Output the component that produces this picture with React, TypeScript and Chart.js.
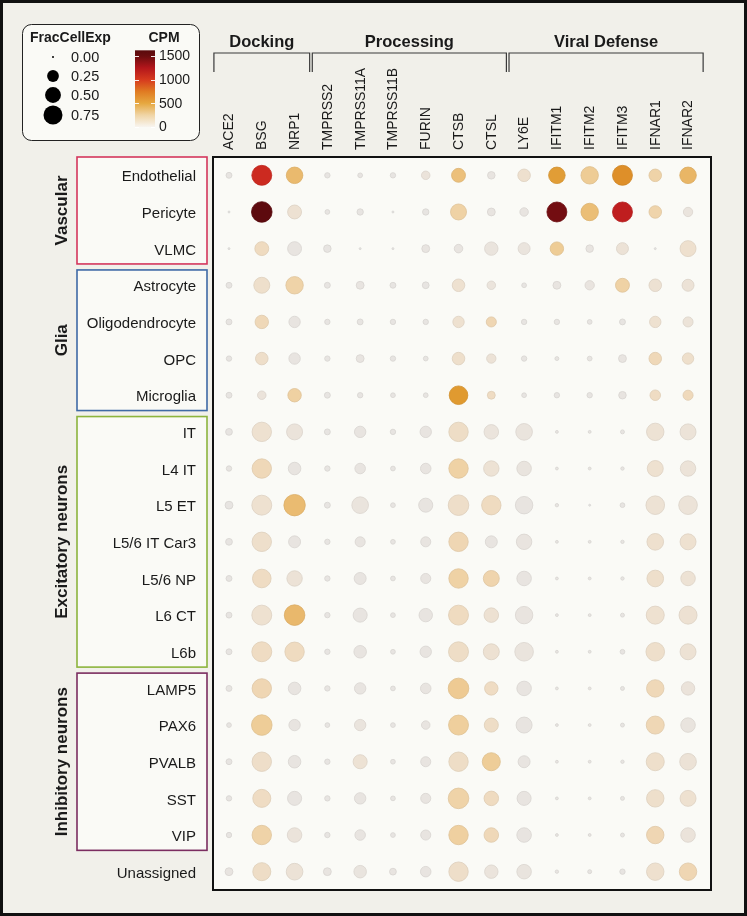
import React, { useEffect, useRef } from "react";
import { Chart, registerables } from "chart.js";
Chart.register(...registerables);

const FONT = '"Liberation Sans", Arial, sans-serif';
const BG = "#f1f0ea";
const PANEL = "#fafaf6";
const INK = "#1a1a1a";

const genes = ["ACE2", "BSG", "NRP1", "TMPRSS2", "TMPRSS11A", "TMPRSS11B", "FURIN", "CTSB", "CTSL", "LY6E", "IFITM1", "IFITM2", "IFITM3", "IFNAR1", "IFNAR2"];
const geneGroupLabels = ["Docking", "Processing", "Viral Defense"];
const geneGroupFrom = [0, 3, 9];
const geneGroupTo = [2, 8, 14];

const cellTypes = ["Endothelial", "Pericyte", "VLMC", "Astrocyte", "Oligodendrocyte", "OPC", "Microglia", "IT", "L4 IT", "L5 ET", "L5/6 IT Car3", "L5/6 NP", "L6 CT", "L6b", "LAMP5", "PAX6", "PVALB", "SST", "VIP", "Unassigned"];
const cellGroupLabels = ["Vascular", "Glia", "Excitatory neurons", "Inhibitory neurons"];
const cellGroupFrom = [0, 3, 7, 14];
const cellGroupTo = [2, 6, 13, 18];
const cellGroupColors = ["#d4365c", "#3f6aa6", "#8cb43e", "#7b2d60"];

// FracCellExp per cell type (rows) x gene (columns)
const fracCellExp = [
  [0.04, 0.84, 0.55, 0.03, 0.02, 0.03, 0.11, 0.37, 0.08, 0.29, 0.55, 0.62, 0.84, 0.29, 0.55],
  [0.00, 0.90, 0.37, 0.02, 0.05, 0.00, 0.05, 0.51, 0.09, 0.11, 0.84, 0.62, 0.84, 0.29, 0.14],
  [0.00, 0.37, 0.37, 0.08, 0.00, 0.00, 0.09, 0.11, 0.34, 0.26, 0.34, 0.08, 0.26, 0.00, 0.51],
  [0.04, 0.51, 0.62, 0.04, 0.09, 0.04, 0.06, 0.29, 0.11, 0.02, 0.09, 0.14, 0.37, 0.29, 0.26],
  [0.04, 0.34, 0.23, 0.03, 0.04, 0.03, 0.03, 0.23, 0.17, 0.03, 0.03, 0.02, 0.04, 0.23, 0.17],
  [0.03, 0.29, 0.23, 0.03, 0.09, 0.03, 0.02, 0.29, 0.14, 0.03, 0.01, 0.02, 0.09, 0.29, 0.23],
  [0.04, 0.11, 0.34, 0.04, 0.03, 0.02, 0.02, 0.72, 0.09, 0.02, 0.03, 0.03, 0.08, 0.19, 0.17],
  [0.06, 0.79, 0.51, 0.04, 0.23, 0.03, 0.23, 0.79, 0.41, 0.56, 0.002, 0.002, 0.01, 0.62, 0.51],
  [0.03, 0.79, 0.29, 0.03, 0.19, 0.02, 0.19, 0.79, 0.47, 0.41, 0.002, 0.002, 0.005, 0.51, 0.47],
  [0.09, 0.84, 0.98, 0.04, 0.56, 0.02, 0.38, 0.90, 0.79, 0.62, 0.005, 0.00, 0.02, 0.72, 0.72],
  [0.06, 0.79, 0.26, 0.03, 0.17, 0.02, 0.17, 0.79, 0.26, 0.47, 0.002, 0.002, 0.005, 0.56, 0.51],
  [0.04, 0.72, 0.47, 0.03, 0.26, 0.02, 0.17, 0.79, 0.51, 0.41, 0.002, 0.002, 0.005, 0.56, 0.41],
  [0.04, 0.84, 0.90, 0.03, 0.38, 0.02, 0.34, 0.84, 0.41, 0.62, 0.002, 0.002, 0.01, 0.67, 0.67],
  [0.04, 0.84, 0.79, 0.03, 0.29, 0.02, 0.23, 0.84, 0.51, 0.72, 0.002, 0.002, 0.02, 0.72, 0.51],
  [0.04, 0.79, 0.29, 0.03, 0.23, 0.02, 0.19, 0.90, 0.34, 0.41, 0.002, 0.002, 0.01, 0.62, 0.34],
  [0.02, 0.90, 0.23, 0.02, 0.23, 0.02, 0.11, 0.84, 0.38, 0.51, 0.002, 0.002, 0.01, 0.67, 0.41],
  [0.04, 0.79, 0.29, 0.03, 0.38, 0.02, 0.17, 0.79, 0.67, 0.26, 0.002, 0.002, 0.005, 0.67, 0.56],
  [0.03, 0.67, 0.38, 0.03, 0.23, 0.02, 0.17, 0.90, 0.41, 0.38, 0.002, 0.002, 0.01, 0.62, 0.51],
  [0.03, 0.79, 0.41, 0.03, 0.19, 0.02, 0.17, 0.79, 0.41, 0.41, 0.002, 0.002, 0.01, 0.62, 0.41],
  [0.09, 0.67, 0.56, 0.09, 0.29, 0.06, 0.19, 0.79, 0.34, 0.41, 0.005, 0.01, 0.03, 0.62, 0.62],
];

// CPM per cell type (rows) x gene (columns)
const cpm = [
  [10, 1050, 480, 10, 5, 10, 60, 430, 20, 120, 680, 330, 760, 260, 510],
  [0, 1500, 100, 5, 10, 0, 10, 270, 20, 20, 1430, 450, 1150, 250, 40],
  [0, 170, 20, 10, 0, 0, 15, 15, 40, 40, 330, 15, 80, 0, 120],
  [10, 130, 260, 10, 15, 10, 10, 110, 50, 10, 15, 25, 270, 100, 80],
  [10, 200, 20, 10, 10, 10, 10, 110, 220, 10, 10, 10, 10, 110, 70],
  [10, 140, 20, 10, 15, 10, 10, 130, 80, 10, 10, 10, 15, 200, 130],
  [10, 60, 280, 10, 10, 10, 10, 700, 160, 10, 10, 10, 15, 160, 190],
  [10, 110, 60, 10, 20, 10, 20, 150, 50, 40, 5, 5, 10, 90, 70],
  [10, 200, 20, 10, 20, 10, 20, 270, 90, 30, 5, 5, 10, 110, 70],
  [10, 110, 470, 10, 40, 10, 20, 140, 170, 20, 5, 0, 10, 90, 70],
  [10, 130, 20, 10, 20, 10, 20, 220, 20, 25, 5, 5, 10, 120, 110],
  [10, 160, 80, 10, 20, 10, 20, 270, 240, 20, 5, 5, 10, 130, 90],
  [10, 110, 490, 10, 20, 10, 20, 170, 100, 25, 5, 5, 10, 110, 100],
  [10, 160, 170, 10, 20, 10, 20, 150, 100, 40, 5, 5, 10, 130, 90],
  [10, 220, 20, 10, 20, 10, 20, 340, 160, 20, 5, 5, 10, 200, 60],
  [10, 320, 20, 10, 40, 10, 15, 300, 150, 20, 5, 5, 10, 210, 30],
  [10, 140, 20, 10, 90, 10, 20, 150, 320, 20, 5, 5, 10, 130, 80],
  [10, 160, 20, 10, 20, 10, 20, 260, 170, 20, 5, 5, 10, 130, 110],
  [10, 260, 60, 10, 20, 10, 20, 290, 200, 20, 5, 5, 10, 220, 60],
  [15, 150, 80, 15, 30, 15, 20, 140, 50, 30, 5, 5, 10, 120, 220],
];

const sizeLegendValues = [0, 0.25, 0.5, 0.75];
const sizeLegendLabels = ["0.00", "0.25", "0.50", "0.75"];
const cpmTicks = [0, 500, 1000, 1500];
const cpmTickLabels = ["0", "500", "1000", "1500"];

// colour stops (cpm -> rgb) for dots
const dotStops: [number, number[]][] = [
  [0, [230, 228, 226]], [50, [235, 228, 220]], [120, [238, 224, 206]], [200, [239, 216, 184]],
  [300, [239, 207, 157]], [450, [235, 190, 118]], [550, [231, 176, 92]], [700, [224, 154, 48]],
  [800, [220, 135, 36]], [900, [215, 95, 30]], [1050, [204, 42, 32]], [1200, [185, 24, 30]],
  [1350, [140, 16, 20]], [1500, [93, 10, 14]],
];
// colour stops for the legend bar
const barStops: [number, number[]][] = [
  [0, [248, 245, 240]], [250, [240, 213, 166]], [500, [230, 168, 64]], [750, [224, 123, 34]],
  [1000, [214, 58, 30]], [1250, [179, 22, 27]], [1500, [106, 13, 15]], [1620, [90, 10, 12]],
];

function lerpStops(stops: [number, number[]][], v: number): number[] {
  if (v <= stops[0][0]) return stops[0][1];
  for (let i = 1; i < stops.length; i++) {
    if (v <= stops[i][0]) {
      const [a, ca] = stops[i - 1];
      const [b, cb] = stops[i];
      const t = (v - a) / (b - a);
      return ca.map((c, k) => Math.round(c + (cb[k] - c) * t));
    }
  }
  return stops[stops.length - 1][1];
}
const rgb = (c: number[]) => `rgb(${c[0]},${c[1]},${c[2]})`;
const radiusFor = (f: number) => 1 + 9.8 * Math.sqrt(f);

const decorPlugin = {
  id: "decor",
  beforeDraw(chart: any) {
    const { ctx, chartArea } = chart;
    const ys = chart.scales.y;
    ctx.save();
    ctx.fillStyle = BG;
    ctx.fillRect(0, 0, chart.width, chart.height);
    ctx.fillStyle = PANEL;
    ctx.fillRect(chartArea.left, chartArea.top, chartArea.right - chartArea.left, chartArea.bottom - chartArea.top);
    // group boxes
    for (let g = 0; g < cellGroupLabels.length; g++) {
      const top = g === 0 ? chartArea.top : ys.getPixelForValue(cellGroupFrom[g] - 0.5) + 3;
      const bottom = ys.getPixelForValue(cellGroupTo[g] + 0.5) - 3;
      const left = 77, right = chartArea.left - 6;
      ctx.fillStyle = PANEL;
      ctx.fillRect(left, top, right - left, bottom - top);
      ctx.strokeStyle = cellGroupColors[g];
      ctx.lineWidth = 1.6;
      ctx.strokeRect(left, top, right - left, bottom - top);
      ctx.save();
      ctx.translate(62, (top + bottom) / 2);
      ctx.rotate(-Math.PI / 2);
      ctx.fillStyle = INK;
      ctx.font = `bold 17px ${FONT}`;
      ctx.textAlign = "center";
      ctx.textBaseline = "middle";
      ctx.fillText(cellGroupLabels[g], 0, 0);
      ctx.restore();
    }
    ctx.restore();
  },
  afterDraw(chart: any) {
    const { ctx, chartArea } = chart;
    const xs = chart.scales.x;
    ctx.save();
    // outer frame
    ctx.strokeStyle = "#111";
    ctx.lineWidth = 3;
    ctx.strokeRect(1.5, 1.5, chart.width - 3, chart.height - 3);
    // panel frame
    ctx.lineWidth = 2;
    ctx.strokeStyle = "#111";
    ctx.strokeRect(chartArea.left, chartArea.top, chartArea.right - chartArea.left, chartArea.bottom - chartArea.top);
    // gene labels
    ctx.fillStyle = INK;
    ctx.font = `14px ${FONT}`;
    genes.forEach((g, i) => {
      ctx.save();
      ctx.translate(xs.getPixelForValue(i) + 0.5, chartArea.top - 7);
      ctx.rotate(-Math.PI / 2);
      ctx.textAlign = "left";
      ctx.textBaseline = "middle";
      ctx.fillText(g, 0, 0);
      ctx.restore();
    });
    // brackets + header labels
    ctx.strokeStyle = "#3a3a3a";
    ctx.lineWidth = 1.2;
    for (let g = 0; g < geneGroupLabels.length; g++) {
      const x0 = xs.getPixelForValue(geneGroupFrom[g] - 0.46);
      const x1 = xs.getPixelForValue(geneGroupTo[g] + 0.46);
      ctx.beginPath();
      ctx.moveTo(x0, 72);
      ctx.lineTo(x0, 53);
      ctx.lineTo(x1, 53);
      ctx.lineTo(x1, 72);
      ctx.stroke();
      ctx.font = `bold 16.5px ${FONT}`;
      ctx.textAlign = "center";
      ctx.textBaseline = "middle";
      ctx.fillText(geneGroupLabels[g], (x0 + x1) / 2, 42);
    }
    // legend box
    ctx.beginPath();
    ctx.roundRect(22.5, 24.5, 177, 116, 9);
    ctx.fillStyle = PANEL;
    ctx.fill();
    ctx.strokeStyle = "#222";
    ctx.lineWidth = 1;
    ctx.stroke();
    ctx.fillStyle = INK;
    ctx.font = `bold 14px ${FONT}`;
    ctx.textAlign = "left";
    ctx.textBaseline = "middle";
    ctx.fillText("FracCellExp", 30, 38);
    const dotY = [57, 76, 95, 115];
    sizeLegendValues.forEach((v, i) => {
      ctx.beginPath();
      ctx.arc(53, dotY[i], radiusFor(v), 0, Math.PI * 2);
      ctx.fillStyle = "#000";
      ctx.fill();
      ctx.fillStyle = INK;
      ctx.font = `14.5px ${FONT}`;
      ctx.textAlign = "left";
      ctx.fillText(sizeLegendLabels[i], 71, dotY[i] + 0.5);
    });
    ctx.font = `bold 14px ${FONT}`;
    ctx.textAlign = "center";
    ctx.fillText("CPM", 164, 38);
    const barL = 135, barR = 155, bar0 = 127, perUnit = 71 / 1500;
    const vy = (v: number) => bar0 - v * perUnit;
    const grad = ctx.createLinearGradient(0, vy(0), 0, vy(1620));
    barStops.forEach(([v, c]) => grad.addColorStop(v / 1620, rgb(c)));
    ctx.fillStyle = grad;
    ctx.fillRect(barL, vy(1620), barR - barL, bar0 - vy(1620));
    ctx.strokeStyle = "rgba(255,255,255,0.9)";
    ctx.lineWidth = 1;
    cpmTicks.forEach((t, i) => {
      const y = Math.round(vy(t)) + 0.5;
      ctx.beginPath();
      ctx.moveTo(barL, y); ctx.lineTo(barL + 4, y);
      ctx.moveTo(barR - 4, y); ctx.lineTo(barR, y);
      ctx.stroke();
      ctx.fillStyle = INK;
      ctx.font = `14px ${FONT}`;
      ctx.textAlign = "left";
      ctx.fillText(cpmTickLabels[i], 159, vy(t) + 0.5);
    });
    ctx.restore();
  },
};

export default function App() {
  const ref = useRef<HTMLCanvasElement | null>(null);
  useEffect(() => {
    document.body.style.margin = "0";
    const points: any[] = [];
    cellTypes.forEach((_, r) => {
      genes.forEach((_, c) => {
        points.push({ x: c, y: r, f: fracCellExp[r][c], c: cpm[r][c] });
      });
    });
    const chart = new Chart(ref.current as HTMLCanvasElement, {
      type: "scatter",
      data: {
        datasets: [
          {
            data: points,
            pointRadius: (ctx: any) => radiusFor(ctx.raw.f),
            pointBackgroundColor: (ctx: any) => rgb(lerpStops(dotStops, ctx.raw.c)),
            pointBorderColor: (ctx: any) => rgb(lerpStops(dotStops, ctx.raw.c).map((v) => Math.round(v * 0.93))),
            pointBorderWidth: 0.8,
            pointHoverRadius: (ctx: any) => radiusFor(ctx.raw.f),
          } as any,
        ],
      },
      options: {
        animation: false,
        responsive: false,
        events: [],
        layout: { padding: { left: 0, top: 157, right: 36, bottom: 23 } },
        plugins: { legend: { display: false }, tooltip: { enabled: false } },
        scales: {
          x: { type: "linear", min: -0.488, max: 14.7, display: false },
          y: {
            type: "linear",
            min: -0.5,
            max: 19.5,
            reverse: true,
            afterBuildTicks: (s: any) => {
              s.ticks = cellTypes.map((_, i) => ({ value: i }));
            },
            afterFit: (s: any) => {
              s.width = 213;
            },
            ticks: {
              autoSkip: false,
              padding: 17,
              labelOffset: 2,
              color: INK,
              font: { family: FONT, size: 15 },
              callback: (v: any) => cellTypes[v as number],
            },
            grid: { display: false, drawTicks: false },
            border: { display: false },
          } as any,
        },
      },
      plugins: [decorPlugin],
    });
    return () => chart.destroy();
  }, []);
  return <canvas ref={ref} width={747} height={916} style={{ display: "block" }} />;
}
